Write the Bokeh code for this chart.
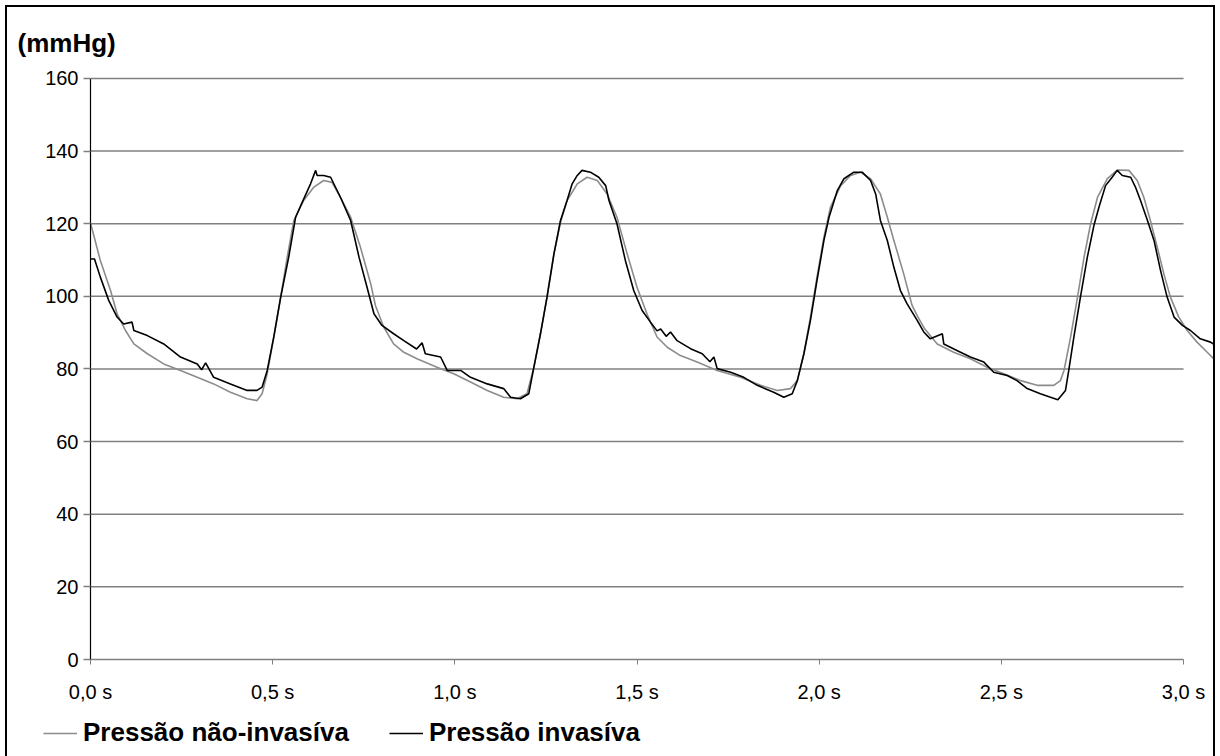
from bokeh.plotting import figure
from bokeh.models import (Range1d, FixedTicker, CustomJSTickFormatter, Title,
                          Legend, LegendItem, InlineStyleSheet)
from bokeh.embed import file_html
from bokeh.resources import INLINE

# Non-invasive pressure trace: time (s) and pressure (mmHg)
t_noninv = [0.000, 0.027, 0.055, 0.073, 0.096, 0.119, 0.156, 0.201, 0.247, 0.293,
            0.338, 0.384, 0.430, 0.457, 0.471, 0.485, 0.503, 0.522, 0.540, 0.558,
            0.585, 0.613, 0.640, 0.663, 0.686, 0.714, 0.741, 0.769, 0.782, 0.805,
            0.832, 0.860, 0.896, 0.951, 0.997, 1.043, 1.089, 1.134, 1.171, 1.198,
            1.217, 1.235, 1.253, 1.272, 1.290, 1.308, 1.336, 1.363, 1.391, 1.418,
            1.445, 1.473, 1.500, 1.528, 1.555, 1.583, 1.619, 1.665, 1.720, 1.784,
            1.839, 1.885, 1.921, 1.940, 1.958, 1.976, 1.994, 2.013, 2.031, 2.059,
            2.086, 2.113, 2.141, 2.168, 2.187, 2.205, 2.232, 2.255, 2.270, 2.290,
            2.324, 2.369, 2.415, 2.461, 2.507, 2.553, 2.598, 2.644, 2.662, 2.672,
            2.690, 2.709, 2.727, 2.745, 2.764, 2.791, 2.818, 2.850, 2.873, 2.891,
            2.909, 2.928, 2.946, 2.964, 2.987, 3.010, 3.037, 3.065, 3.088]
p_noninv = [120.2, 109.9, 101.6, 95.2, 90.6, 86.9, 84.2, 81.4, 79.6, 77.7,
            75.9, 73.6, 71.8, 71.3, 73.2, 78.7, 88.8, 99.8, 110.8, 120.9,
            126.4, 130.1, 131.9, 131.4, 127.3, 121.8, 113.5, 103.5, 97.5, 91.5,
            86.9, 84.6, 82.8, 80.5, 78.7, 76.4, 74.1, 72.2, 71.8, 73.2,
            80.5, 89.7, 99.8, 111.7, 120.4, 126.4, 131.0, 132.8, 131.9, 128.2,
            121.8, 111.7, 102.5, 95.0, 88.8, 86.0, 83.7, 81.9, 79.6, 77.7,
            75.5, 74.1, 74.6, 76.8, 84.2, 94.3, 105.3, 116.3, 124.6, 130.5,
            133.3, 134.2, 132.4, 128.2, 121.8, 115.4, 106.2, 97.5, 94.5, 91.0,
            86.9, 84.6, 82.8, 80.5, 78.7, 76.8, 75.5, 75.5, 76.8, 79.6,
            88.8, 99.8, 110.8, 120.0, 127.3, 132.4, 134.8, 134.7, 131.9, 127.3,
            120.9, 113.5, 106.2, 99.8, 94.3, 90.6, 87.4, 84.6, 82.3]

# Invasive (arterial line) pressure trace: time (s) and pressure (mmHg)
t_inv = [0.000, 0.011, 0.027, 0.050, 0.073, 0.091, 0.114, 0.119, 0.156, 0.201,
         0.247, 0.293, 0.305, 0.316, 0.338, 0.384, 0.430, 0.457, 0.471, 0.485,
         0.503, 0.522, 0.544, 0.563, 0.581, 0.604, 0.618, 0.622, 0.640, 0.659,
         0.686, 0.714, 0.737, 0.759, 0.778, 0.800, 0.832, 0.860, 0.895, 0.910,
         0.919, 0.961, 0.979, 1.016, 1.043, 1.089, 1.134, 1.153, 1.180, 1.203,
         1.217, 1.235, 1.253, 1.272, 1.290, 1.308, 1.322, 1.336, 1.349, 1.372,
         1.395, 1.414, 1.423, 1.445, 1.468, 1.491, 1.514, 1.537, 1.555, 1.565,
         1.580, 1.592, 1.610, 1.647, 1.679, 1.700, 1.711, 1.720, 1.757, 1.793,
         1.830, 1.875, 1.903, 1.926, 1.940, 1.958, 1.976, 1.994, 2.013, 2.027,
         2.050, 2.068, 2.095, 2.118, 2.141, 2.155, 2.168, 2.187, 2.205, 2.223,
         2.241, 2.269, 2.287, 2.305, 2.338, 2.342, 2.378, 2.415, 2.452, 2.479,
         2.516, 2.543, 2.571, 2.607, 2.635, 2.655, 2.667, 2.676, 2.685, 2.699,
         2.717, 2.736, 2.754, 2.768, 2.786, 2.804, 2.818, 2.832, 2.855, 2.868,
         2.882, 2.901, 2.919, 2.937, 2.955, 2.974, 2.997, 3.019, 3.046, 3.074,
         3.088]
p_inv = [110.3, 110.3, 105.3, 98.9, 94.3, 92.4, 92.9, 90.6, 89.2, 86.9,
         83.3, 81.4, 79.8, 81.7, 77.7, 75.9, 74.1, 74.1, 75.0, 79.6,
         88.8, 99.8, 110.8, 121.8, 125.9, 131.0, 134.7, 133.3, 133.3, 132.8,
         127.3, 120.9, 110.8, 102.5, 95.2, 92.0, 89.7, 87.8, 85.5, 87.2,
         84.2, 83.3, 79.6, 79.6, 77.7, 75.9, 74.6, 72.2, 71.8, 73.2,
         80.5, 89.7, 99.8, 111.7, 120.9, 126.4, 131.0, 133.3, 134.7, 134.2,
         132.8, 130.5, 126.4, 120.0, 109.9, 101.6, 96.1, 92.9, 90.5, 91.0,
         89.0, 90.2, 87.8, 85.6, 84.2, 82.0, 83.3, 80.1, 79.1, 77.7,
         75.5, 73.6, 72.2, 73.2, 76.8, 84.2, 93.4, 104.4, 115.4, 121.8,
         129.2, 132.4, 134.2, 134.2, 131.9, 128.2, 120.9, 115.4, 108.0, 101.6,
         98.0, 93.4, 90.2, 88.3, 89.7, 86.9, 85.1, 83.3, 81.9, 79.1,
         78.2, 76.8, 74.6, 73.2, 72.2, 71.5, 73.0, 74.1, 79.6, 88.8,
         99.8, 110.8, 119.5, 124.6, 130.5, 132.8, 134.7, 133.3, 132.8, 130.1,
         126.4, 120.9, 115.4, 107.1, 99.8, 94.3, 92.0, 90.6, 88.3, 87.4,
         86.5]

y_ticks = [0, 20, 40, 60, 80, 100, 120, 140, 160]
x_ticks = [0.0, 0.5, 1.0, 1.5, 2.0, 2.5, 3.0]

series_names = ["Pressão não-invasíva", "Pressão invasíva"]
unit_label = "(mmHg)"

FONT = "Liberation Sans"
GRID = "#808080"
NONINV_COLOR = "#8c8c8c"
INV_COLOR = "black"

# outer chart frame: top and sides around the plot, sides only around the legend strip
plot_border = InlineStyleSheet(css="""
:host { position: relative; }
:host::after {
  content: ""; position: absolute; left: 5px; top: 5px;
  width: 1210px; height: 707px;
  border: 2px solid black; border-bottom: none;
  box-sizing: border-box; pointer-events: none; z-index: 10;
}
""")
legend_border = InlineStyleSheet(css="""
:host { position: relative; }
:host::after {
  content: ""; position: absolute; left: 5px; top: 0px;
  width: 1210px; height: 44px;
  border-left: 2px solid black; border-right: 2px solid black;
  box-sizing: border-box; pointer-events: none; z-index: 10;
}
""")

p = figure(width=1220, height=712, output_backend="svg", toolbar_location=None,
           x_range=Range1d(0, 3.085), y_range=Range1d(0, 160.55),
           min_border_left=90, min_border_right=6,
           min_border_top=76, min_border_bottom=53,
           stylesheets=[plot_border])
p.outline_line_color = None
p.background_fill_color = "white"
p.border_fill_color = "white"
p.xgrid.visible = False
p.ygrid.visible = False

# horizontal gridlines stop at the last labelled time
p.segment(x0=x_ticks[0], x1=x_ticks[-1], y0=y_ticks[1:], y1=y_ticks[1:],
          line_color=GRID, line_width=1.5)

p.line(t_noninv, p_noninv, line_color=NONINV_COLOR, line_width=1.6)
p.line(t_inv, p_inv, line_color=INV_COLOR, line_width=1.6)

# x axis
xa = p.xaxis[0]
xa.ticker = FixedTicker(ticks=x_ticks)
xa.formatter = CustomJSTickFormatter(code="return tick.toFixed(1).replace('.', ',') + ' s';")
xa.bounds = (x_ticks[0], x_ticks[-1])
xa.axis_line_color = GRID
xa.axis_line_width = 1.5
xa.major_tick_line_color = GRID
xa.major_tick_out = 5
xa.major_tick_in = 0
xa.minor_tick_line_color = None
xa.major_label_text_font = FONT
xa.major_label_text_font_size = "20px"
xa.major_label_text_color = "black"
xa.major_label_standoff = 16

# y axis
ya = p.yaxis[0]
ya.ticker = FixedTicker(ticks=y_ticks)
ya.bounds = (y_ticks[0], y_ticks[-1])
ya.axis_line_color = "black"
ya.axis_line_width = 1.2
ya.major_tick_line_color = GRID
ya.major_tick_line_width = 1.5
ya.major_tick_out = 7
ya.major_tick_in = 0
ya.minor_tick_line_color = None
ya.major_label_text_font = FONT
ya.major_label_text_font_size = "20px"
ya.major_label_text_color = "black"
ya.major_label_standoff = 5

# unit caption above the y axis
p.add_layout(Title(text=unit_label, align="left", offset=-73, standoff=38,
                   text_font=FONT, text_font_size="26px", text_font_style="bold",
                   text_color="black"), "above")

# legend strip under the chart (its own canvas, so the keys may sit left of the y axis)
leg = figure(width=1220, height=44, output_backend="svg", toolbar_location=None,
             x_range=Range1d(0, 1), y_range=Range1d(0, 1),
             x_axis_location=None, y_axis_location=None,
             min_border=0, min_border_left=0, min_border_right=0,
             min_border_top=0, min_border_bottom=0,
             stylesheets=[legend_border])
leg.outline_line_color = None
leg.xgrid.visible = False
leg.ygrid.visible = False
nan = float("nan")
k_noninv = leg.line(x=[nan], y=[nan], line_color=NONINV_COLOR, line_width=1.6)
k_inv = leg.line(x=[nan], y=[nan], line_color=INV_COLOR, line_width=1.6)

legend = Legend(items=[LegendItem(label=series_names[0], renderers=[k_noninv]),
                       LegendItem(label=series_names[1], renderers=[k_inv])],
                orientation="horizontal", location=(43, 8),
                padding=0, margin=0, spacing=40, label_standoff=6,
                glyph_width=34, glyph_height=26,
                label_text_font=FONT, label_text_font_size="26px",
                label_text_font_style="bold", label_text_color="black",
                background_fill_alpha=0, border_line_alpha=0)
leg.add_layout(legend)

open("out.html", "w").write(file_html([p, leg], INLINE))
